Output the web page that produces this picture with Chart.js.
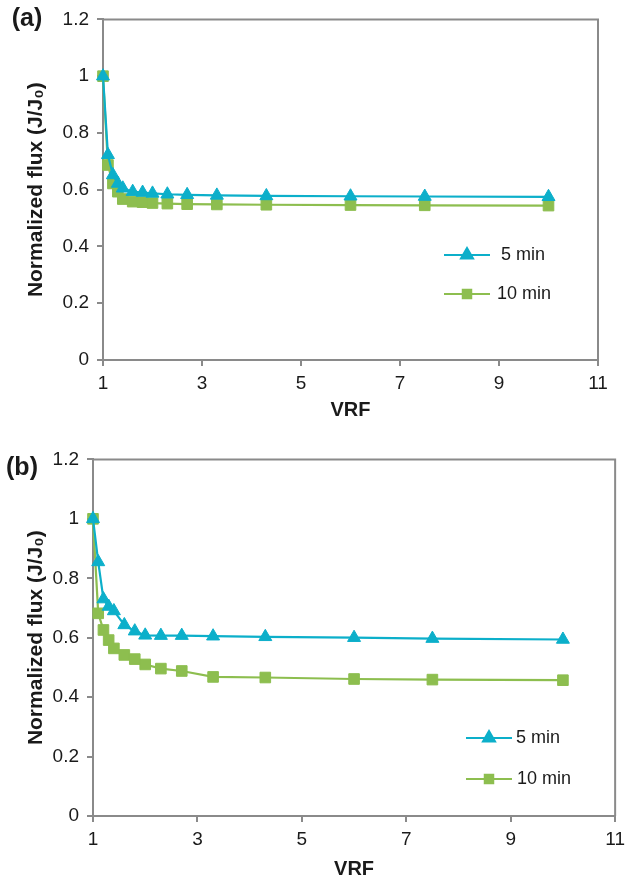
<!DOCTYPE html>
<html>
<head>
<meta charset="utf-8">
<script src="https://cdn.jsdelivr.net/npm/chart.js@4.4.1/dist/chart.umd.min.js"></script>
<style>
  body { margin: 0; background: #fff; }
  canvas { position: absolute; left: 0; }
</style>
</head>
<body>
<canvas id="chartA" width="631" height="440" style="top:0"></canvas>
<canvas id="chartB" width="631" height="441" style="top:440px"></canvas>
<script>
// VRF steps shared by both panels
const vrf = [1, 1.1, 1.2, 1.3, 1.4, 1.6, 1.8, 2, 2.3, 2.7, 3.3, 4.3, 6, 7.5, 10];

// panel (a)
const fluxA5 = [1.0, 0.723, 0.652, 0.622, 0.605, 0.593, 0.590, 0.587, 0.584, 0.582, 0.580, 0.578, 0.577, 0.576, 0.575];
const fluxA10 = [1.0, 0.687, 0.622, 0.593, 0.567, 0.558, 0.556, 0.553, 0.551, 0.549, 0.548, 0.547, 0.546, 0.545, 0.544];

// panel (b)
const fluxB5 = [1.0, 0.855, 0.730, 0.705, 0.690, 0.643, 0.622, 0.608, 0.607, 0.607, 0.605, 0.603, 0.600, 0.597, 0.594];
const fluxB10 = [1.0, 0.682, 0.626, 0.592, 0.564, 0.542, 0.528, 0.510, 0.496, 0.488, 0.468, 0.466, 0.461, 0.459, 0.457];

const seriesNames = ['5 min', '10 min'];
const xTicks = [1, 3, 5, 7, 9, 11];
const yTicks = [0, 0.2, 0.4, 0.6, 0.8, 1, 1.2];

const cyan = '#0CAFCA';
const green = '#8DBE4F';
const axisGrey = '#8a8a8a';
const textCol = '#1a1a1a';

// frame, panel tag and legend
const extras = {
    id: 'extras',
    beforeDatasetsDraw(chart, args, opts) {
        const {ctx, chartArea: a} = chart;
        ctx.save();
        ctx.strokeStyle = axisGrey;
        ctx.lineWidth = 2;
        ctx.beginPath();
        ctx.moveTo(a.left, a.top);
        ctx.lineTo(a.right, a.top);
        ctx.lineTo(a.right, a.bottom);
        ctx.stroke();
        ctx.restore();
    },
    afterDraw(chart, args, opts) {
        const {ctx} = chart;
        ctx.save();
        ctx.fillStyle = textCol;
        ctx.font = 'bold 25px "Liberation Sans", Arial, sans-serif';
        ctx.textAlign = 'center';
        ctx.textBaseline = 'middle';
        ctx.fillText(opts.tag, opts.tagX, opts.tagY);

        chart.data.datasets.forEach((ds, i) => {
            const y = opts.legendY[i];
            ctx.strokeStyle = ds.borderColor;
            ctx.lineWidth = 2;
            ctx.beginPath();
            ctx.moveTo(opts.legendX - 23, y);
            ctx.lineTo(opts.legendX + 23, y);
            ctx.stroke();
            Chart.helpers.drawPoint(ctx, {
                pointStyle: ds.pointStyle,
                radius: ds.pointStyle === 'rect' ? 6 : 7,
                borderWidth: 1
            }, opts.legendX, y);
            ctx.fillStyle = ds.backgroundColor;
            ctx.fill();
            ctx.fillStyle = textCol;
            ctx.font = '18px "Liberation Sans", Arial, sans-serif';
            ctx.textAlign = 'left';
            ctx.fillText(ds.label, opts.textX[i], y);
        });
        ctx.restore();
    }
};

function makeChart(id, fivemin, tenmin, box) {
    const toPts = (vals) => vals.map((v, i) => ({x: vrf[i], y: v}));
    const series = [fivemin, tenmin];
    const styles = [
        {color: cyan, point: 'triangle', r: 7.5},
        {color: green, point: 'rect', r: 7.5}
    ];
    return new Chart(document.getElementById(id), {
        type: 'scatter',
        data: {
            datasets: series.map((vals, i) => ({
                label: seriesNames[i],
                data: toPts(vals),
                showLine: true,
                clip: false,
                borderColor: styles[i].color,
                backgroundColor: styles[i].color,
                borderWidth: 2.2,
                pointStyle: styles[i].point,
                pointRadius: styles[i].r,
                pointBorderWidth: 1,
                tension: 0
            }))
        },
        options: {
            responsive: false,
            animation: false,
            layout: {
                padding: {top: box.top, right: box.right, left: 0, bottom: 0}
            },
            scales: {
                x: {
                    type: 'linear',
                    min: 1,
                    max: 11,
                    afterFit: (s) => { s.height = box.xHeight; },
                    afterBuildTicks: (s) => { s.ticks = xTicks.map(v => ({value: v})); },
                    grid: {display: true, drawOnChartArea: false, drawTicks: true, tickLength: 6, color: axisGrey, lineWidth: 2},
                    border: {display: true, color: axisGrey, width: 2},
                    ticks: {
                        color: textCol,
                        padding: 6,
                        font: {family: '"Liberation Sans", Arial, sans-serif', size: 19},
                        maxRotation: 0
                    },
                    title: {
                        display: true,
                        text: 'VRF',
                        color: textCol,
                        padding: {top: 0, bottom: box.xTitlePad},
                        font: {family: '"Liberation Sans", Arial, sans-serif', size: 20, weight: 'bold'}
                    }
                },
                y: {
                    min: 0,
                    max: 1.2,
                    afterFit: (s) => { s.width = box.yWidth; },
                    afterBuildTicks: (s) => { s.ticks = yTicks.map(v => ({value: v})); },
                    grid: {display: true, drawOnChartArea: false, drawTicks: true, tickLength: 6, color: axisGrey, lineWidth: 2},
                    border: {display: true, color: axisGrey, width: 2},
                    ticks: {
                        color: textCol,
                        padding: 8,
                        font: {family: '"Liberation Sans", Arial, sans-serif', size: 19},
                        callback: (v) => String(+v.toFixed(1))
                    },
                    title: {
                        display: true,
                        text: 'Normalized flux (J/J\u2080)',
                        color: textCol,
                        padding: {top: box.yTitlePad, bottom: 0},
                        font: {family: '"Liberation Sans", Arial, sans-serif', size: 21, weight: 'bold'}
                    }
                }
            },
            plugins: {
                legend: {display: false},
                tooltip: {enabled: false},
                extras: box.extras
            }
        },
        plugins: [extras]
    });
}

makeChart('chartA', fluxA5, fluxA10, {
    top: 17, right: 33, xHeight: 80, yWidth: 103, xTitlePad: 18, yTitlePad: 24,
    extras: {tag: '(a)', tagX: 27, tagY: 19, legendX: 467, legendY: [255, 294], textX: [501, 497]}
});

makeChart('chartB', fluxB5, fluxB10, {
    top: 19, right: 14, xHeight: 65, yWidth: 93, xTitlePad: 0, yTitlePad: 24,
    extras: {tag: '(b)', tagX: 22, tagY: 28, legendX: 489, legendY: [298, 339], textX: [516, 517]}
});
</script>
</body>
</html>
